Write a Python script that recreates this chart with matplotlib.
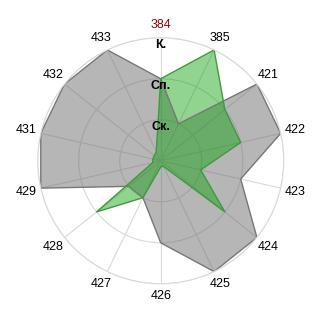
import numpy as np
import matplotlib
matplotlib.use('Agg')
import matplotlib.pyplot as plt

categories = ['384', '385', '421', '422', '423', '424', '425',
              '426', '427', '428', '429', '431', '432', '433']
gray_values = [2, 1, 3, 3, 2, 3, 3, 2, 1, 1, 3, 3, 3, 3]
green_values = [2, 3, 2, 2, 1, 2, 0.15, 0.15, 1, 2, 0.2, 0.2, 0.2, 0.25]
level_values = [1, 2, 3]
level_labels = ['Ск.', 'Сп.', 'К.']

plt.rcParams['font.family'] = ['Liberation Sans', 'DejaVu Sans']

n = len(categories)
angles = np.arange(n) * 2 * np.pi / n
closed = np.append(angles, angles[0])

fig = plt.figure(figsize=(3.2, 3.2), dpi=100)
ax = fig.add_axes([0.1178, 0.1131, 0.769, 0.769], projection='polar')
ax.set_theta_zero_location('N')
ax.set_theta_direction(-1)
ax.set_ylim(0, 3)
ax.set_axisbelow(True)

g = np.append(gray_values, gray_values[0])
ax.fill(closed, g, color='#6e6e6e', alpha=0.5, lw=0)
ax.plot(closed, g, color='#777777', lw=1)

gr = np.append(green_values, green_values[0])
ax.fill(closed, gr, color='#0aa00a', alpha=0.45, lw=0)
ax.plot(closed, gr, color='#3c9c3c', lw=1)

ax.set_xticks(angles)
ax.set_xticklabels([])
ax.set_yticks(level_values)
ax.set_yticklabels([])
ax.grid(color='#d9d9d9', lw=0.8)
ax.spines['polar'].set_color('#d9d9d9')
ax.tick_params(length=0)

for a, lab in zip(angles, categories):
    r = 3.3 + 0.07 * abs(np.sin(a))
    ax.text(a, r, lab, ha='center', va='center', fontsize=9,
            color='#990000' if lab == '384' else 'black')

for v, lab in zip(level_values, level_labels):
    ax.text(0, v - 0.18, lab, ha='center', va='center', fontsize=9,
            fontweight='bold', color='black')

fig.savefig('out.png', dpi=100)
